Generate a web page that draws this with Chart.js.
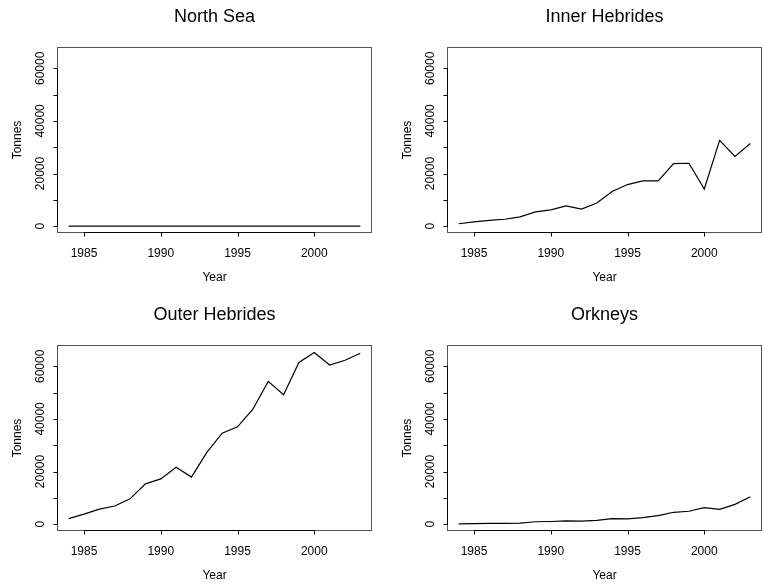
<!DOCTYPE html>
<html>
<head>
<meta charset="utf-8">
<script src="https://cdn.jsdelivr.net/npm/chart.js@4"></script>
<style>
  html, body { margin: 0; padding: 0; background: #fff; overflow: hidden; }
  #wrap { position: relative; width: 764px; height: 586px; }
  .panel { position: absolute; width: 374px; height: 290px; }
</style>
</head>
<body>
<div id="wrap">
  <div class="panel" style="left:0;top:0"><canvas id="c0"></canvas></div>
  <div class="panel" style="left:390px;top:0"><canvas id="c1"></canvas></div>
  <div class="panel" style="left:0;top:298px"><canvas id="c2"></canvas></div>
  <div class="panel" style="left:390px;top:298px"><canvas id="c3"></canvas></div>
</div>
<script>
const years = [1984, 1985, 1986, 1987, 1988, 1989, 1990, 1991, 1992, 1993,
               1994, 1995, 1996, 1997, 1998, 1999, 2000, 2001, 2002, 2003];

const northSea = [0, 0, 0, 0, 0, 0, 0, 0, 0, 0, 0, 0, 0, 0, 0, 0, 0, 0, 0, 0];
const innerHebrides = [900, 1600, 2200, 2600, 3500, 5400, 6200, 7700, 6500, 8800,
                       13200, 15800, 17200, 17200, 23800, 23900, 14100, 32600, 26500, 31400];
const outerHebrides = [2100, 3800, 5700, 6900, 9600, 15300, 17200, 21600, 17900, 27300,
                       34600, 37000, 43700, 54300, 49200, 61500, 65300, 60500, 62300, 65000];
const orkneys = [100, 150, 250, 300, 400, 900, 1000, 1200, 1100, 1400,
                 2100, 2000, 2500, 3200, 4500, 4900, 6300, 5600, 7500, 10400];

const panelTitles = ["North Sea", "Inner Hebrides", "Outer Hebrides", "Orkneys"];
const xTicks = [1985, 1990, 1995, 2000];
const yTicks = [0, 10000, 20000, 30000, 40000, 50000, 60000];
const yLabels = [0, 20000, 40000, 60000];

const FONT = "'Liberation Sans', Arial, Helvetica, sans-serif";

// R-style axes, box and titles drawn on the chart's own scales
const baseAxes = {
  id: "baseAxes",
  afterDraw(chart, args, opts) {
    const { ctx, chartArea: a, scales: { x, y } } = chart;
    ctx.save();

    // plot box
    ctx.strokeStyle = "#555";
    ctx.lineWidth = 1;
    ctx.strokeRect(a.left + 0.5, a.top + 0.5, a.right - a.left - 1, a.bottom - a.top - 1);

    ctx.strokeStyle = "#000";
    ctx.fillStyle = "#000";

    // x axis
    const bx = Math.round(a.bottom) - 0.5;
    ctx.beginPath();
    ctx.moveTo(x.getPixelForValue(xTicks[0]), bx);
    ctx.lineTo(x.getPixelForValue(xTicks[xTicks.length - 1]), bx);
    xTicks.forEach((t) => {
      const px = Math.round(x.getPixelForValue(t)) + 0.5;
      ctx.moveTo(px, bx);
      ctx.lineTo(px, bx + 4);
    });
    ctx.stroke();
    ctx.font = "12px " + FONT;
    ctx.textAlign = "center";
    ctx.textBaseline = "middle";
    xTicks.forEach((t) => ctx.fillText(String(t), x.getPixelForValue(t), a.bottom + 21));
    ctx.fillText("Year", (a.left + a.right) / 2, a.bottom + 45);

    // y axis
    const lx = Math.round(a.left) + 0.5;
    ctx.beginPath();
    ctx.moveTo(lx, y.getPixelForValue(yTicks[0]));
    ctx.lineTo(lx, y.getPixelForValue(yTicks[yTicks.length - 1]));
    yTicks.forEach((t) => {
      const py = Math.round(y.getPixelForValue(t)) + 0.5;
      ctx.moveTo(lx, py);
      ctx.lineTo(lx - 4, py);
    });
    ctx.stroke();
    yLabels.forEach((t) => {
      ctx.save();
      ctx.translate(a.left - 16, y.getPixelForValue(t));
      ctx.rotate(-Math.PI / 2);
      ctx.fillText(String(t), 0, 0);
      ctx.restore();
    });
    ctx.save();
    ctx.translate(a.left - 39, (a.top + a.bottom) / 2);
    ctx.rotate(-Math.PI / 2);
    ctx.fillText("Tonnes", 0, 0);
    ctx.restore();

    // main title
    ctx.font = "18px " + FONT;
    ctx.fillText(opts.title, (a.left + a.right) / 2, a.top - 30);

    ctx.restore();
  }
};

function drawPanel(id, title, values) {
  const ctx = document.getElementById(id).getContext("2d");
  return new Chart(ctx, {
    type: "line",
    data: {
      labels: years,
      datasets: [{
        data: years.map((yr, i) => ({ x: yr, y: values[i] })),
        borderColor: "#000",
        borderWidth: 1.2,
        pointRadius: 0,
        tension: 0,
        fill: false
      }]
    },
    options: {
      responsive: true,
      maintainAspectRatio: false,
      animation: false,
      layout: { padding: { left: 57, top: 47, right: 2, bottom: 57 } },
      scales: {
        x: { type: "linear", min: 1983.24, max: 2003.76, display: false },
        y: { type: "linear", min: -2620, max: 68120, display: false }
      },
      plugins: {
        legend: { display: false },
        tooltip: { enabled: false },
        baseAxes: { title: title }
      }
    },
    plugins: [baseAxes]
  });
}

drawPanel("c0", panelTitles[0], northSea);
drawPanel("c1", panelTitles[1], innerHebrides);
drawPanel("c2", panelTitles[2], outerHebrides);
drawPanel("c3", panelTitles[3], orkneys);
</script>
</body>
</html>
